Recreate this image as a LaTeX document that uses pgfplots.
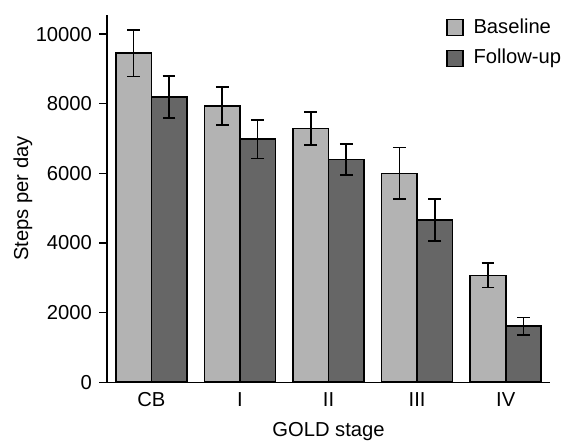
\documentclass[border=0pt]{standalone}
\usepackage{pgfplots}
\pgfplotsset{compat=1.18}
\usepackage{fontspec}
\setmainfont{Liberation Sans}
\definecolor{basec}{RGB}{179,179,179}
\definecolor{follc}{RGB}{102,102,102}
\begin{document}
\begin{tikzpicture}[font=\fontsize{10.1}{12.1}\selectfont]
\begin{axis}[
  scale only axis,
  width=221.5pt, height=183.6pt,
  ybar=0pt, bar width=0.4,
  xmin=-0.5, xmax=4.5,
  ymin=0, ymax=10550,
  axis lines*=left,
  axis line style={-, line width=0.7pt},
  xtick=data,
  xticklabels={CB, I, II, III, IV},
  x tick style={draw=none},
  ytick={0,2000,4000,6000,8000,10000},
  y tick style={line width=0.7pt, black},
  tick align=outside,
  major tick length=4pt,
  tick label style={font=\fontsize{10.1}{12.1}\selectfont},
  label style={font=\fontsize{10.1}{12.1}\selectfont},
  /pgf/number format/assume math mode=true,
  yticklabel style={/pgf/number format/1000 sep={}},
  scaled y ticks=false,
  xticklabel style={yshift=2.5pt},
  xlabel={GOLD stage},
  xlabel style={at={(axis description cs:0.5,0)}, anchor=base, yshift=-27.3pt},
  ylabel={Steps per day},
  ylabel style={at={(axis description cs:-0.19,0.5)}, anchor=center},
  legend style={draw=none, fill=none, at={(0.765,1.002)}, anchor=north west,
    row sep=2.5pt, font=\fontsize{10.1}{12.1}\selectfont, inner sep=0pt,
    /tikz/every odd column/.append style={column sep=3pt}},
  legend cell align=left,
  legend image code/.code={\draw[#1, draw=black, line width=0.6pt] (0pt,-4pt) rectangle (8pt,4pt);},
  error bars/y dir=both,
  error bars/y explicit,
  error bars/error bar style={line width=0.8pt, black},
  error bars/error mark options={line width=0.8pt, black, mark size=3.2pt, rotate=90},
]
\addplot[fill=basec, draw=black, line width=0.8pt] coordinates {
  (0,9450) +- (0,670)
  (1,7930) +- (0,545)
  (2,7290) +- (0,480)
  (3,6000) +- (0,740)
  (4,3070) +- (0,350)
};
\addplot[fill=follc, draw=black, line width=0.8pt] coordinates {
  (0,8190) +- (0,600)
  (1,6980) +- (0,555)
  (2,6400) +- (0,445)
  (3,4660) +- (0,600)
  (4,1610) +- (0,250)
};
\legend{Baseline, Follow-up}
\end{axis}
\pgfresetboundingbox
\path ([xshift=-53.5pt,yshift=-29.5pt]current axis.south west) rectangle ([xshift=6.5pt,yshift=7.5pt]current axis.north east);
\end{tikzpicture}
\end{document}
